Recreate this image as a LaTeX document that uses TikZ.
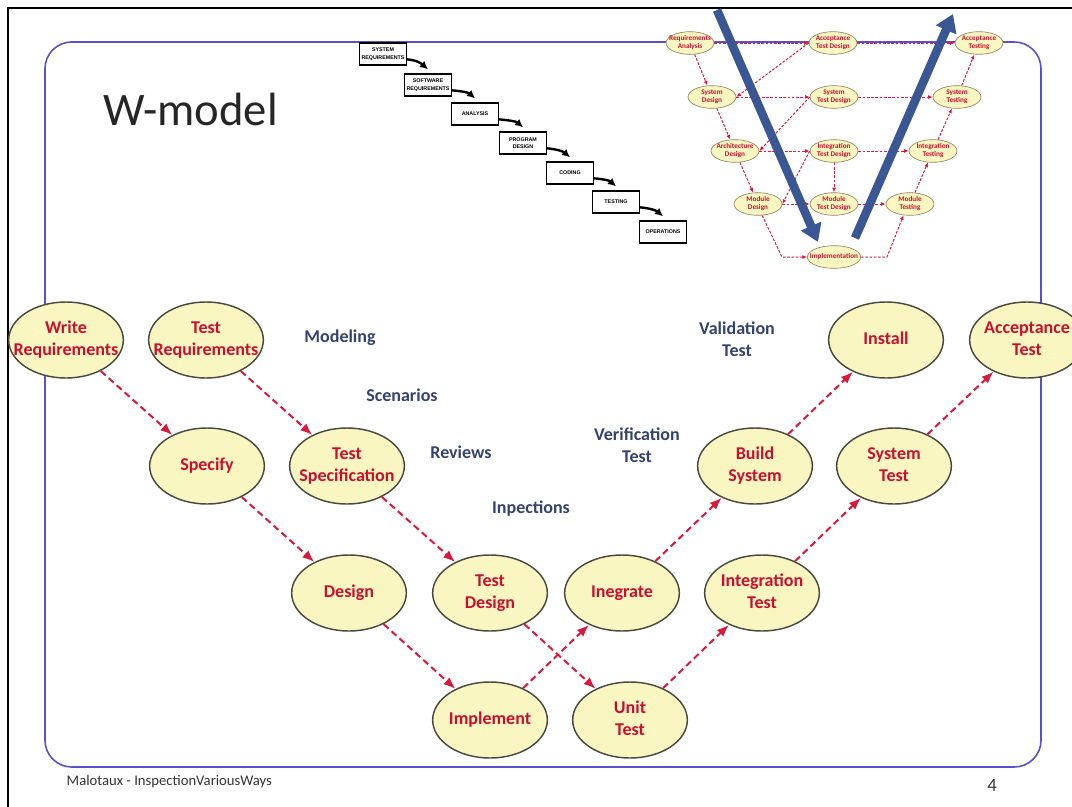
\documentclass[tikz,border=0pt]{standalone}
\usepackage{fontspec}
\setmainfont{Carlito}
\newfontfamily\wffont{Liberation Sans}
\usetikzlibrary{arrows.meta,positioning,shapes.geometric}
\definecolor{EllFill}{HTML}{FAF6C2}
\definecolor{EllLine}{HTML}{4A4A40}
\definecolor{MiniLine}{HTML}{8C8660}
\definecolor{StepRed}{HTML}{C8102E}
\definecolor{ArrRed}{HTML}{D61A3C}
\definecolor{LblBlue}{HTML}{33426F}
\definecolor{FrameBlue}{HTML}{5A50C8}
\definecolor{VBlue}{HTML}{3A5794}
\newcommand{\elltext}[1]{\makebox[0pt]{\begin{tabular}{@{}c@{}}#1\end{tabular}}}

\begin{document}
\begin{tikzpicture}[x=0.75pt,y=-0.75pt,>=Latex]
\tikzstyle{stage}=[ellipse,draw=EllLine,line width=1.1pt,fill=EllFill,inner sep=0pt,minimum width=86pt,minimum height=57pt,text=StepRed,font=\fontsize{13.5}{16.5}\selectfont\bfseries]
\tikzstyle{lbl}=[align=center,text=LblBlue,font=\fontsize{13.5}{16.5}\selectfont\bfseries]
\tikzstyle{flow}=[->,ArrRed,line width=1.5pt,dash pattern=on 5pt off 3pt,>={Latex[length=9pt,width=7pt]}]
\tikzstyle{mini}=[ellipse,draw=MiniLine,line width=0.5pt,fill=EllFill,inner sep=0pt,minimum width=36pt,minimum height=17pt,text=StepRed,font=\fontsize{5.4}{5.8}\selectfont\bfseries]
\tikzstyle{miniflow}=[->,ArrRed,line width=0.75pt,dash pattern=on 2pt off 1.2pt,>={Latex[length=3.5pt,width=3pt]}]
\tikzstyle{wfbox}=[draw,line width=1.1pt,fill=white,minimum width=35pt,minimum height=16.5pt,inner sep=0pt,align=center,font=\wffont\fontsize{4}{5.5}\selectfont\bfseries]
\tikzstyle{wfarrow}=[->,line width=1.8pt,>={Latex[length=6pt,width=6pt]}]
\tikzstyle{bigarrow}=[->,VBlue,line width=6.5pt,>={Triangle[length=13pt,width=16pt]}]
\useasboundingbox (0,0) rectangle (1072,807);
\clip (0,0) rectangle (1072,807);
\draw[FrameBlue,line width=1.2pt,rounded corners=20pt] (45,42) rectangle (1041,767);
\draw[line width=2.2pt] (8,807) -- (8,8) -- (1072,8);
\node[anchor=base west,font=\fontsize{35}{40}\selectfont,text=black!85] (title) at (99,125) {W-model};

% waterfall
\node[wfbox] (sysreq) at (383,54) {SYSTEM\\REQUIREMENTS};
\node[wfbox] (swreq) at (428,85) {SOFTWARE\\REQUIREMENTS};
\node[wfbox] (anal) at (475,114) {ANALYSIS};
\node[wfbox] (pdes) at (523,143) {PROGRAM\\DESIGN};
\node[wfbox] (cod) at (570,173) {CODING};
\node[wfbox] (tst) at (616,202) {TESTING};
\node[wfbox] (ops) at (663,232) {OPERATIONS};
\draw[wfarrow] ([yshift=-4pt]sysreq.east) .. controls +(10,1) and +(-7,-6) .. ([yshift=3pt]swreq.north);
\draw[wfarrow] ([yshift=-4pt]swreq.east) .. controls +(10,1) and +(-7,-6) .. ([yshift=3pt]anal.north);
\draw[wfarrow] ([yshift=-4pt]anal.east) .. controls +(10,1) and +(-7,-6) .. ([yshift=3pt]pdes.north);
\draw[wfarrow] ([yshift=-4pt]pdes.east) .. controls +(10,1) and +(-7,-6) .. ([yshift=3pt]cod.north);
\draw[wfarrow] ([yshift=-4pt]cod.east) .. controls +(10,1) and +(-7,-6) .. ([yshift=3pt]tst.north);
\draw[wfarrow] ([yshift=-4pt]tst.east) .. controls +(10,1) and +(-7,-6) .. ([yshift=3pt]ops.north);

% V-model
\node[mini] (ra) at (690,43) {\elltext{Requirements\\Analysis}};
\node[mini] (atd) at (833,43) {\elltext{Acceptance\\Test Design}};
\node[mini] (at) at (979,43) {\elltext{Acceptance\\Testing}};
\node[mini] (sd) at (712,97) {\elltext{System\\Design}};
\node[mini] (std) at (834,97) {\elltext{System\\Test Design}};
\node[mini] (st) at (957,97) {\elltext{System\\Testing}};
\node[mini] (ad) at (735,151) {\elltext{Architecture\\Design}};
\node[mini] (itd) at (834,151) {\elltext{Integration\\Test Design}};
\node[mini] (it) at (933,151) {\elltext{Integration\\Testing}};
\node[mini] (md) at (758,204) {\elltext{Module\\Design}};
\node[mini] (mtd) at (834,204) {\elltext{Module\\Test Design}};
\node[mini] (mt) at (910,204) {\elltext{Module\\Testing}};
\node[mini,minimum width=40pt] (imp) at (834,257) {\elltext{Implementation}};
\coordinate (bl) at (782,257);
\coordinate (br) at (887,257);
\draw[miniflow] (ra) -- (sd);
\draw[miniflow] (sd) -- (ad);
\draw[miniflow] (ad) -- (md);
\draw[miniflow] (md.290) -- (bl) -- (imp.west);
\draw[miniflow] (imp.east) -- (br) -- (mt.240);
\draw[miniflow] (mt) -- (it);
\draw[miniflow] (it) -- (st);
\draw[miniflow] (st) -- (at);
\draw[miniflow] (ra.east) -- (atd.west);
\draw[miniflow] (atd.east) -- (at.west);
\draw[miniflow] (sd.east) -- (std.west);
\draw[miniflow] (std.east) -- (st.west);
\draw[miniflow] (ad.east) -- (itd.west);
\draw[miniflow] (itd.east) -- (it.west);
\draw[miniflow] (md.east) -- (mtd.west);
\draw[miniflow] (mtd.east) -- (mt.west);
\draw[miniflow] (itd) -- (mtd);
\draw[miniflow] (atd.west) -- (sd.east);
\draw[miniflow] (std.west) -- (ad.east);
\draw[miniflow] (itd.west) -- (md.east);
\coordinate (dntop) at (717,10);
\coordinate (dnend) at (818,242);
\coordinate (upstart) at (855,238);
\coordinate (upend) at (953,14);
\draw[bigarrow] (dntop) -- (dnend);
\draw[bigarrow] (upstart) -- (upend);

% W-model
\node[stage] (wr) at (66,340) {\elltext{Write\\Requirements}};
\node[stage] (tr) at (206,340) {\elltext{Test\\Requirements}};
\node[stage] (spec) at (207,466) {\elltext{Specify}};
\node[stage] (tspec) at (347,466) {\elltext{Test\\Specification}};
\node[stage] (des) at (349,593) {\elltext{Design}};
\node[stage] (tdes) at (490,593) {\elltext{Test\\Design}};
\node[stage] (impl) at (490,720) {\elltext{Implement}};
\node[stage] (unit) at (630,720) {\elltext{Unit\\Test}};
\node[stage] (integ) at (622,593) {\elltext{Inegrate}};
\node[stage] (itest) at (762,593) {\elltext{Integration\\Test}};
\node[stage] (build) at (755,466) {\elltext{Build\\System}};
\node[stage] (stest) at (894,466) {\elltext{System\\Test}};
\node[stage] (inst) at (886,340) {\elltext{Install}};
\node[stage] (acc) at (1027,340) {\elltext{Acceptance\\Test}};
\draw[flow] (wr) -- (spec);
\draw[flow] (tr) -- (tspec);
\draw[flow] (spec) -- (des);
\draw[flow] (tspec) -- (tdes);
\draw[flow] (des) -- (impl);
\draw[flow] (tdes) -- (unit);
\draw[flow] (impl) -- (integ);
\draw[flow] (integ) -- (build);
\draw[flow] (build) -- (inst);
\draw[flow] (unit) -- (itest);
\draw[flow] (itest) -- (stest);
\draw[flow] (stest) -- (acc);

\node[lbl] (modl) at (340,338) {Modeling};
\node[lbl] (scen) at (402,395) {Scenarios};
\node[lbl] (revw) at (461,452) {Reviews};
\node[lbl] (insp) at (531,509) {Inpections};
\node[lbl] (verif) at (637,445) {Verification\\Test};
\node[lbl] (valid) at (737,339) {Validation\\Test};

\node[anchor=base west,font=\fontsize{11}{13}\selectfont,text=black!80] (foot) at (62,785) {Malotaux - InspectionVariousWays};
\node[anchor=base,font=\fontsize{14}{16}\selectfont,text=black!80] (pgno) at (992,791) {4};
\end{tikzpicture}
\end{document}
